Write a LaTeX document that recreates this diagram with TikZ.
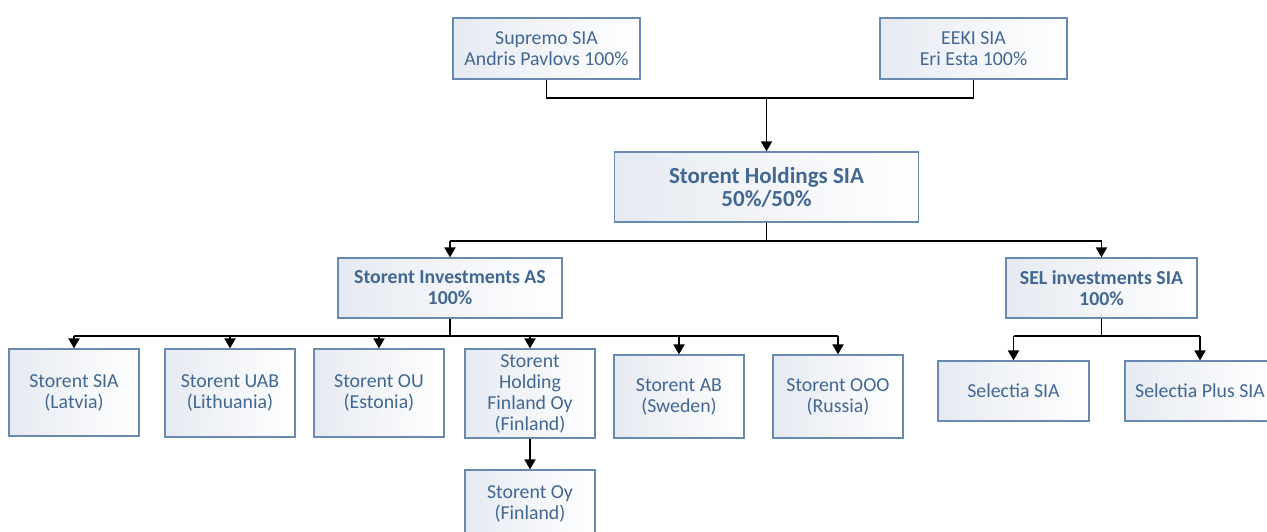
\documentclass[tikz,border=0pt]{standalone}
\usepackage{fontspec}
\setmainfont{Carlito}
\usetikzlibrary{arrows.meta}
\definecolor{boxline}{RGB}{104,138,176}
\definecolor{boxtext}{RGB}{66,104,146}
\definecolor{boxfill}{RGB}{230,234,241}
\tikzset{
  firm/.style={draw=boxline, line width=1.2pt, left color=boxfill, right color=white,
    text=boxtext, align=center, inner sep=0pt, font=\fontsize{19.8}{21}\selectfont},
  parent/.style={firm, font=\bfseries\fontsize{19.8}{21}\selectfont},
  child/.style={firm, minimum width=130pt},
  link/.style={line width=1.8pt, black},
  arr/.style={link, -{Triangle[width=11pt,length=10pt]}}
}
\begin{document}
\begin{tikzpicture}[x=1pt,y=-1pt]
  \useasboundingbox[fill=white] (0,0) rectangle (1267,531);
  \clip (0,0) rectangle (1267,531);
  % owners
  \node[firm, minimum width=187pt, minimum height=61pt] (supremo) at (546.5,48.5) {Supremo SIA\\Andris Pavlovs 100\%};
  \node[firm, minimum width=187pt, minimum height=61pt] (eeki) at (973.5,48.5) {EEKI SIA\\Eri Esta 100\%};
  \node[firm, minimum width=304pt, minimum height=70pt, font=\bfseries\fontsize{23}{23}\selectfont] (holdings) at (766.5,187) {Storent Holdings SIA\\50\%/50\%};
  % second level
  \node[parent, minimum width=224pt, minimum height=60pt] (invest) at (450,288) {Storent Investments AS\\100\%};
  \node[parent, minimum width=191pt, minimum height=60pt] (sel) at (1101.5,288) {SEL investments SIA\\100\%};
  % subsidiaries
  \node[child, minimum height=87pt] (latvia) at (74,392.5) {Storent SIA\\(Latvia)};
  \node[child, minimum height=88pt] (uab) at (230,393) {Storent UAB\\(Lithuania)};
  \node[child, minimum height=88pt] (ou) at (379,393) {Storent OU\\(Estonia)};
  \node[child, minimum height=89pt] (finhold) at (530,393.5) {Storent\\Holding\\Finland Oy\\(Finland)};
  \node[child, minimum height=83pt] (ab) at (679,396.5) {Storent AB\\(Sweden)};
  \node[child, minimum height=83pt] (ooo) at (838,396.5) {Storent OOO\\(Russia)};
  \node[child, minimum height=67pt] (oy) at (530,503.5) {Storent Oy\\(Finland)};
  \node[firm, minimum width=151pt, minimum height=60pt] (selectia) at (1013.5,391) {Selectia SIA};
  \node[firm, minimum width=150pt, minimum height=60pt] (selplus) at (1200,391) {Selectia Plus SIA};
  % connectors
  \coordinate (bus0) at (0,98);
  \coordinate (bus1) at (0,241);
  \coordinate (bus2) at (0,336);
  \draw[link] (supremo.south) -- (supremo.south |- bus0) -- (eeki.south |- bus0) -- (eeki.south);
  \draw[arr] (holdings.north |- bus0) -- (holdings.north);
  \draw[link] (holdings.south) -- (holdings.south |- bus1);
  \draw[link] (invest.north |- bus1) -- (sel.north |- bus1);
  \foreach \n in {invest,sel}
    \draw[arr] (\n.north |- bus1) -- (\n.north);
  \draw[link] (invest.south) -- (invest.south |- bus2);
  \draw[link] (latvia.north |- bus2) -- (ooo.north |- bus2);
  \foreach \n in {latvia,uab,ou,finhold,ab,ooo}
    \draw[arr] (\n.north |- bus2) -- (\n.north);
  \draw[arr] (finhold.south) -- (oy.north);
  \draw[link] (sel.south) -- (sel.south |- bus2);
  \draw[link] (selectia.north |- bus2) -- (selplus.north |- bus2);
  \foreach \n in {selectia,selplus}
    \draw[arr] (\n.north |- bus2) -- (\n.north);
\end{tikzpicture}
\end{document}
